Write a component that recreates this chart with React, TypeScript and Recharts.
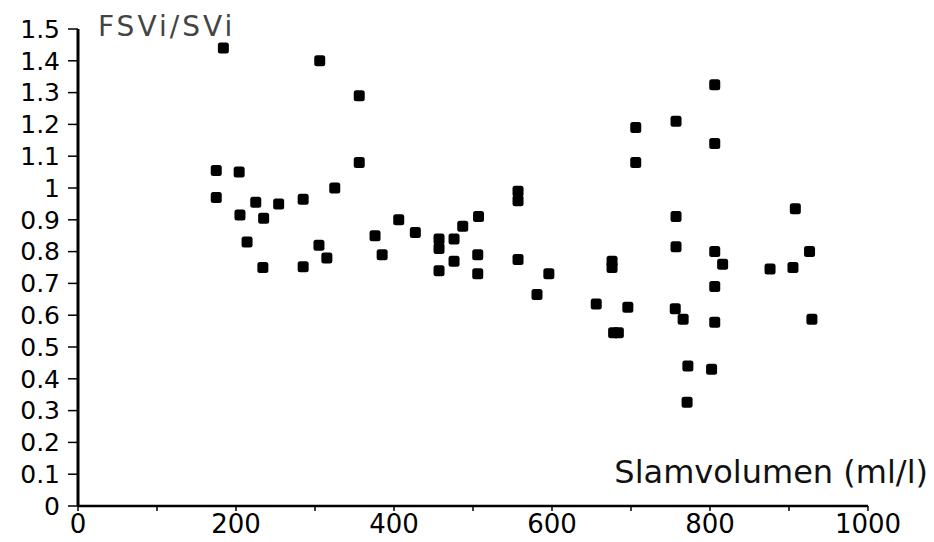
import { ScatterChart, Scatter, XAxis, YAxis } from "recharts";

// Slamvolumen (ml/l) vs FSVi/SVi
const slamVolume = [
  175, 175, 184, 204, 205, 214, 225, 235, 234, 254, 285, 285, 306, 305, 315, 325,
  356, 356, 376, 385, 406, 427, 457, 457, 457, 476, 476, 487, 507, 506, 506, 557,
  557, 557, 581, 596, 656, 676, 676, 678, 684, 696, 706, 706, 757, 757, 757, 756,
  766, 772, 771, 806, 806, 806, 806, 806, 802, 816, 876, 905, 908, 926, 929,
];
const fsviRatio = [
  1.055, 0.97, 1.44, 1.05, 0.915, 0.83, 0.955, 0.905, 0.75, 0.95, 0.965, 0.752, 1.4, 0.82, 0.78, 1.0,
  1.29, 1.08, 0.85, 0.79, 0.9, 0.86, 0.84, 0.81, 0.74, 0.84, 0.77, 0.88, 0.91, 0.79, 0.73, 0.99,
  0.96, 0.775, 0.665, 0.73, 0.635, 0.77, 0.75, 0.545, 0.545, 0.625, 1.19, 1.08, 1.21, 0.91, 0.815, 0.62,
  0.587, 0.44, 0.326, 1.325, 1.14, 0.8, 0.69, 0.578, 0.43, 0.76, 0.745, 0.75, 0.935, 0.8, 0.587,
];

const xTicks = [0, 100, 200, 300, 400, 500, 600, 700, 800, 900, 1000];
const yTicks = [0, 0.1, 0.2, 0.3, 0.4, 0.5, 0.6, 0.7, 0.8, 0.9, 1, 1.1, 1.2, 1.3, 1.4, 1.5];

const points = slamVolume.map((x, i) => ({ x, y: fsviRatio[i] }));

const FONT = "'DejaVu Sans', sans-serif";

function SquareDot(props: any) {
  const { cx, cy } = props;
  return <rect x={cx - 5.5} y={cy - 5.5} width={11} height={11} rx={2.5} fill="#000" />;
}

export default function App() {
  return (
    <div style={{ position: "absolute", left: 0, top: 0, width: 934, height: 542, background: "#fff" }}>
      <ScatterChart
        width={934}
        height={542}
        margin={{ top: 29, right: 66, bottom: 0, left: 0 }}
      >
        <XAxis
          type="number"
          dataKey="x"
          domain={[0, 1000]}
          ticks={xTicks}
          tickFormatter={(v: number) => (v % 200 === 0 ? String(v) : "")}
          height={36}
          tickSize={5}
          tickMargin={4}
          axisLine={{ stroke: "#000", strokeWidth: 2.5 }}
          tickLine={{ stroke: "#000", strokeWidth: 1.5 }}
          tick={{ fill: "#000", fontSize: 26, fontFamily: FONT }}
          interval={0}
        />
        <YAxis
          type="number"
          dataKey="y"
          domain={[0, 1.5]}
          ticks={yTicks}
          tickFormatter={(v: number) => String(+v.toFixed(1))}
          width={78}
          tickSize={10}
          tickMargin={8}
          axisLine={{ stroke: "#000", strokeWidth: 3 }}
          tickLine={{ stroke: "#000", strokeWidth: 1.5 }}
          tick={{ fill: "#000", fontSize: 25, fontFamily: FONT }}
          interval={0}
        />
        <Scatter data={points} shape={SquareDot} isAnimationActive={false} />
        <text x={98} y={36} fontSize={28} fontFamily={FONT} fill="#444" letterSpacing={3}>
          FSVi/SVi
        </text>
        <text x={928} y={483} fontSize={32} fontFamily={FONT} fill="#111" textAnchor="end">
          Slamvolumen (ml/l)
        </text>
      </ScatterChart>
    </div>
  );
}
